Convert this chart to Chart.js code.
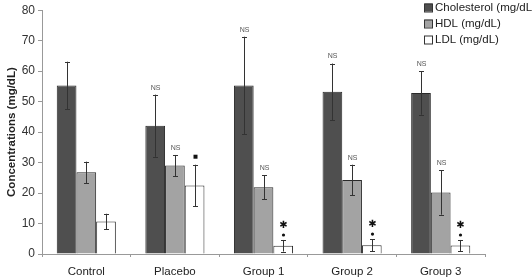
<!DOCTYPE html>
<html>
<head>
<meta charset="utf-8">
<script src="https://cdn.jsdelivr.net/npm/chart.js@4.4.1/dist/chart.umd.min.js"></script>
<style>
  html, body { margin: 0; padding: 0; background: #fff; }
  #wrap { width: 532px; height: 279px; position: relative; }
</style>
</head>
<body>
<div id="wrap"><canvas id="c" width="532" height="279"></canvas></div>
<script>
const categories = ['Control', 'Placebo', 'Group 1', 'Group 2', 'Group 3'];
const seriesNames = ['Cholesterol (mg/dL)', 'HDL (mg/dL)', 'LDL (mg/dL)'];
const cholesterol = [55.3, 42.1, 55.3, 53.2, 52.8];
const cholesterolErr = [7.8, 10.2, 16.0, 9.3, 7.1];
const hdl = [26.8, 29.0, 21.9, 24.3, 20.2];
const hdlErr = [3.5, 3.5, 4.0, 5.0, 7.3];
const ldl = [10.7, 22.5, 2.7, 2.9, 2.8];
const ldlErr = [2.5, 6.8, 1.9, 2.0, 1.8];
const cholesterolNotes = ['', 'NS', 'NS', 'NS', 'NS'];
const hdlNotes = ['', 'NS', 'NS', 'NS', 'NS'];
const ldlNotes = ['', 'square', 'star', 'star', 'star'];
const yTicks = [0, 10, 20, 30, 40, 50, 60, 70, 80];

const errs = [cholesterolErr, hdlErr, ldlErr];
const notes = [cholesterolNotes, hdlNotes, ldlNotes];
const fills = ['#4f4f4f', '#a3a3a3', '#ffffff'];

const errorPlugin = {
  id: 'errorBars',
  afterDatasetsDraw(chart) {
    const ctx = chart.ctx;
    const y = chart.scales.y;
    ctx.save();
    chart.data.datasets.forEach((ds, di) => {
      const meta = chart.getDatasetMeta(di);
      meta.data.forEach((bar, i) => {
        const v = ds.data[i], e = errs[di][i];
        const yt = y.getPixelForValue(v + e);
        const yb = y.getPixelForValue(v - e);
        const x = Math.round(bar.x) + 0.5;
        ctx.strokeStyle = '#333';
        ctx.lineWidth = 1;
        ctx.beginPath();
        ctx.moveTo(x, yt); ctx.lineTo(x, yb);
        ctx.moveTo(x - 2.5, Math.round(yt) + 0.5); ctx.lineTo(x + 2.5, Math.round(yt) + 0.5);
        ctx.moveTo(x - 2.5, Math.round(yb) + 0.5); ctx.lineTo(x + 2.5, Math.round(yb) + 0.5);
        ctx.stroke();
        const n = notes[di][i];
        ctx.fillStyle = '#333';
        ctx.textAlign = 'center';
        ctx.textBaseline = 'middle';
        if (n === 'NS') {
          ctx.font = '7px "Liberation Sans", Arial, sans-serif';
          ctx.fillStyle = '#555';
          ctx.fillText('NS', x, yt - 7);
        } else if (n === 'square') {
          ctx.fillStyle = '#111';
          ctx.fillRect(x - 2, yt - 10, 4, 4);
        } else if (n === 'star') {
          ctx.fillStyle = '#111';
          ctx.font = 'bold 10px "DejaVu Sans", sans-serif';
          ctx.fillText('\u2731', x, yt - 15);
          ctx.beginPath();
          ctx.arc(x, yt - 5, 1.6, 0, Math.PI * 2);
          ctx.fill();
        }
      });
    });
    ctx.restore();
  }
};

const legendPlugin = {
  id: 'cornerLegend',
  afterDraw(chart) {
    const ctx = chart.ctx;
    ctx.save();
    ctx.font = '11.5px "Liberation Sans", Arial, sans-serif';
    ctx.textBaseline = 'middle';
    ctx.textAlign = 'left';
    chart.data.datasets.forEach((ds, i) => {
      const cy = 7.5 + i * 16;
      ctx.fillStyle = ds.backgroundColor;
      ctx.fillRect(424.5, cy - 4, 8, 8);
      ctx.strokeStyle = '#333';
      ctx.lineWidth = 1;
      ctx.strokeRect(424.5, cy - 3.5, 8, 8);
      ctx.fillStyle = '#222';
      ctx.fillText(ds.label, 435, cy + 0.5);
    });
    ctx.restore();
  }
};

new Chart(document.getElementById('c'), {
  type: 'bar',
  data: {
    labels: categories,
    datasets: [cholesterol, hdl, ldl].map((d, i) => ({
      label: seriesNames[i],
      data: d,
      backgroundColor: fills[i],
      borderColor: '#2a2a2a',
      borderWidth: 1,
      categoryPercentage: 0.667,
      barPercentage: 1.0
    }))
  },
  options: {
    responsive: false,
    animation: false,
    devicePixelRatio: 1,
    layout: { padding: { top: 2, right: 47, left: 0, bottom: 0 } },
    plugins: { legend: { display: false }, tooltip: { enabled: false } },
    scales: {
      x: {
        grid: { display: true, drawOnChartArea: false, drawTicks: true, tickLength: 3, color: '#999', offset: true },
        border: { color: '#999', width: 1 },
        ticks: { color: '#222', font: { family: '"Liberation Sans", Arial, sans-serif', size: 11.5 }, padding: 8 },
        afterFit(s) { s.height = 25; }
      },
      y: {
        min: 0, max: 80,
        afterBuildTicks(s) { s.ticks = yTicks.map(v => ({ value: v })); },
        grid: { display: true, drawOnChartArea: false, drawTicks: true, tickLength: 4, color: '#999' },
        border: { color: '#999', width: 1 },
        ticks: { color: '#333', font: { family: '"Liberation Sans", Arial, sans-serif', size: 12 }, padding: 3 },
        title: { display: true, text: 'Concentrations (mg/dL)', color: '#222', padding: { top: 5, bottom: 0 },
                 font: { family: '"Liberation Sans", Arial, sans-serif', size: 11.5, weight: 'bold' } },
        afterFit(s) { s.width = 42; }
      }
    }
  },
  plugins: [errorPlugin, legendPlugin]
});
</script>
</body>
</html>
